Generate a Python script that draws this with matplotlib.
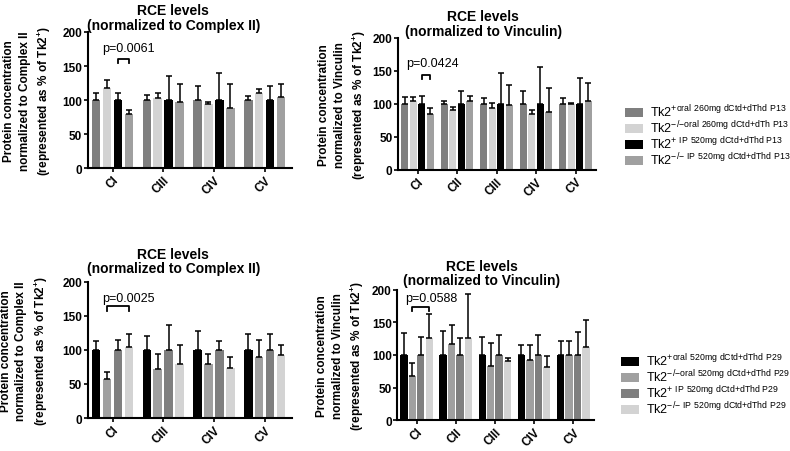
import matplotlib
matplotlib.use('Agg')
import matplotlib.pyplot as plt
import numpy as np

plt.rcParams['font.family'] = ['Liberation Sans', 'DejaVu Sans']
plt.rcParams['mathtext.fontset'] = 'custom'
plt.rcParams['mathtext.rm'] = 'Liberation Sans'
plt.rcParams['mathtext.bf'] = 'Liberation Sans:bold'

DARK = '#7f7f7f'
LIGHT = '#d3d3d3'
BLACK = '#000000'
MID = '#a0a0a0'

# --- top row, P13 ---
cats_c2 = ['CI', 'CIII', 'CIV', 'CV']
cats_vin = ['CI', 'CII', 'CIII', 'CIV', 'CV']

p13_c2_vals = [[100, 100, 100, 100],
               [117, 103, 94, 111],
               [100, 100, 100, 100],
               [80, 97, 88, 104]]
p13_c2_err = [[11, 8, 20, 6],
              [13, 7, 3, 5],
              [10, 36, 39, 21],
              [6, 27, 35, 19]]

p13_vin_vals = [[100, 100, 100, 100, 100],
                [105, 91, 94, 84, 100],
                [100, 100, 100, 100, 100],
                [85, 105, 99, 87, 105]]
p13_vin_err = [[10, 5, 9, 20, 9],
               [5, 5, 8, 6, 1],
               [12, 19, 47, 56, 39],
               [8, 7, 29, 37, 27]]

p13_labels = [r'Tk2$^{\mathregular{+oral\ 260mg\ dCtd{+}dThd\ P13}}$',
              r'Tk2$^{\mathregular{{-}/{-}oral\ 260mg\ dCtd{+}dTh\ P13}}$',
              r'Tk2$^{\mathregular{+\ IP\ 520mg\ dCtd{+}dThd\ P13}}$',
              r'Tk2$^{\mathregular{{-}/{-}\ IP\ 520mg\ dCtd{+}dThd\ P13}}$']
p13_colors = [DARK, LIGHT, BLACK, MID]

# --- bottom row, P29 ---
p29_c2_vals = [[100, 100, 100, 100],
               [58, 72, 79, 89],
               [100, 100, 100, 100],
               [104, 80, 74, 92]]
p29_c2_err = [[13, 20, 28, 24],
              [10, 22, 15, 26],
              [15, 37, 13, 23],
              [20, 27, 16, 15]]

p29_vin_vals = [[100, 100, 100, 100, 100],
                [68, 116, 83, 93, 100],
                [100, 100, 100, 100, 100],
                [126, 126, 91, 81, 112]]
p29_vin_err = [[34, 36, 28, 15, 21],
               [20, 30, 35, 22, 21],
               [28, 26, 31, 30, 35],
               [37, 68, 5, 18, 41]]

p29_labels = [r'Tk2$^{\mathregular{+oral\ 520mg\ dCtd{+}dThd\ P29}}$',
              r'Tk2$^{\mathregular{{-}/{-}oral\ 520mg\ dCtd{+}dThd\ P29}}$',
              r'Tk2$^{\mathregular{+\ IP\ 520mg\ dCtd{+}dThd\ P29}}$',
              r'Tk2$^{\mathregular{{-}/{-}\ IP\ 520mg\ dCtd{+}dThd\ P29}}$']
p29_colors = [BLACK, MID, DARK, LIGHT]

ylab_c2 = 'Protein concentration\nnormalized to Complex II\n(represented as % of Tk2$^{\\mathbf{+}}$)'
ylab_vin = 'Protein concentration\nnormalized to Vinculin\n(represented as % of Tk2$^{\\mathbf{+}}$)'


def panel(ax, cats, vals, errs, colors, width, title, tpad, ylab, sig, pval, ptxt, title_x, lab_x):
    x = np.arange(len(cats))
    offs = [-1.5, -0.5, 0.5, 1.5]
    step = 0.215
    bars = []
    for k in range(4):
        b = ax.bar(x + offs[k] * step, vals[k], width, color=colors[k],
                   yerr=[np.zeros(len(cats)), errs[k]],
                   error_kw=dict(ecolor='black', elinewidth=1.1, capsize=2, capthick=1.1))
        bars.append(b)
    ax.set_ylim(0, 200)
    ax.set_yticks([0, 50, 100, 150, 200])
    ax.set_xlim(-0.49, len(cats) - 1 + 0.53)
    ax.set_xticks(x)
    ax.set_xticklabels(cats, rotation=45, ha='right', rotation_mode='anchor',
                       fontweight='bold', fontsize=8.5)
    for t in ax.get_yticklabels():
        t.set_fontweight('bold')
        t.set_fontsize(8.5)
    ax.spines['top'].set_visible(False)
    ax.spines['right'].set_visible(False)
    ax.spines['left'].set_linewidth(1.5)
    ax.spines['bottom'].set_linewidth(1.5)
    ax.tick_params(axis='both', width=1.2, length=3, pad=1)
    ax.set_title(title, fontsize=10, fontweight='bold', x=title_x, pad=tpad, linespacing=1.05)
    ax.set_ylabel(ylab, fontsize=8.5, fontweight='bold', linespacing=1.4)
    ax.yaxis.set_label_coords(lab_x, 0.5)
    # significance bracket
    i, j, ytop = sig
    xa = offs[i] * step
    xb = offs[j] * step
    ax.plot([xa, xa, xb, xb], [ytop - 6, ytop, ytop, ytop - 6], color='black', lw=1.3)
    ax.text(ptxt[0], ptxt[1], pval, ha='center', va='center', fontsize=9)
    return bars


fig = plt.figure(figsize=(7.9, 4.52), dpi=100)
ax1 = fig.add_axes([0.111, 0.626, 0.258, 0.301])
ax2 = fig.add_axes([0.504, 0.622, 0.251, 0.292])
ax3 = fig.add_axes([0.111, 0.073, 0.258, 0.301])
ax4 = fig.add_axes([0.503, 0.068, 0.249, 0.289])

panel(ax1, cats_c2, p13_c2_vals, p13_c2_err, p13_colors, 0.17,
      'RCE levels\n(normalized to Complex II)', 2, ylab_c2,
      (2, 3, 161), 'p=0.0061', (0.31, 176), 0.42, -0.17)
b2 = panel(ax2, cats_vin, p13_vin_vals, p13_vin_err, p13_colors, 0.187,
           'RCE levels\n(normalized to Vinculin)', 0, ylab_vin,
           (2, 3, 143), 'p=0.0424', (0.39, 162), 0.43, -0.15)
panel(ax3, cats_c2, p29_c2_vals, p29_c2_err, p29_colors, 0.17,
      'RCE levels\n(normalized to Complex II)', 7, ylab_c2,
      (1, 3, 164), 'p=0.0025', (0.31, 177), 0.42, -0.185)
b4 = panel(ax4, cats_vin, p29_vin_vals, p29_vin_err, p29_colors, 0.187,
           'RCE levels\n(normalized to Vinculin)', 4, ylab_vin,
           (1, 3, 173), 'p=0.0588', (0.37, 187), 0.43, -0.158)

leg_kw = dict(loc='upper left', frameon=False, fontsize=9, borderpad=0, borderaxespad=0,
              handlelength=1.45, handleheight=0.7, handletextpad=0.55, labelspacing=-0.05)
fig.legend([b[0] for b in b2], p13_labels, bbox_to_anchor=(625 / 790, 1 - 104 / 452), **leg_kw)
fig.legend([b[0] for b in b4], p29_labels, bbox_to_anchor=(621 / 790, 1 - 353 / 452), **leg_kw)

fig.savefig('out.png', dpi=100)
